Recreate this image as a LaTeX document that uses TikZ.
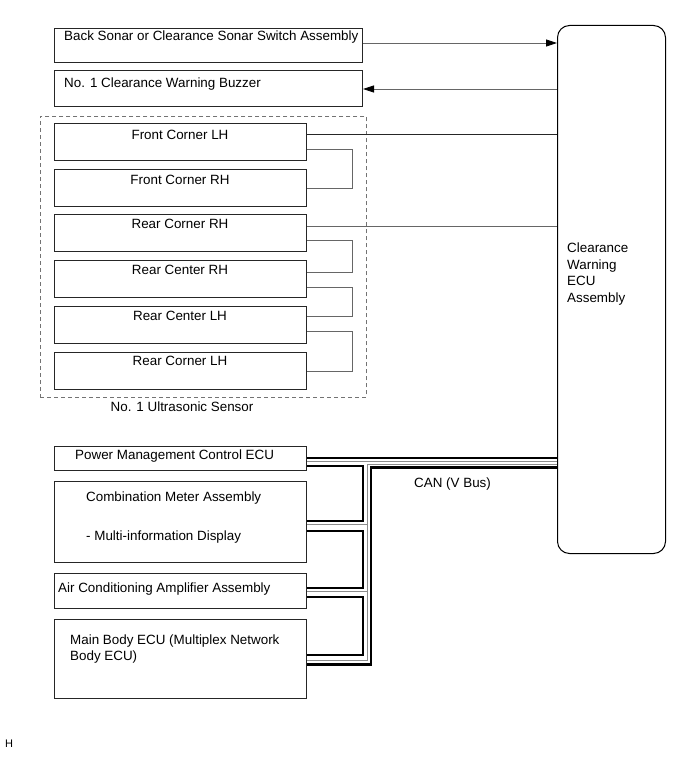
\documentclass[tikz,border=0pt]{standalone}
\usepackage{fontspec}
\setmainfont{Liberation Sans}
\usetikzlibrary{arrows.meta}
\begin{document}
\begin{tikzpicture}[x=1pt,y=-1pt,
  font=\fontsize{13.4}{16.7}\selectfont,
  box/.style={draw=black!85, line width=1pt, anchor=north west, inner sep=0pt, minimum width=252pt},
  wbox/.style={box, minimum width=308pt},
  txt/.style={anchor=base west, inner sep=0pt},
  ctxt/.style={anchor=base, inner sep=0pt},
  sig/.style={draw=black!60, line width=0.8pt},
  darksig/.style={draw=black!85, line width=0.8pt},
  arr/.style={sig, -{Triangle[length=11pt,width=7pt,fill=black,color=black]}},
  canthick/.style={draw=black, line width=2.4pt},
  canthin/.style={draw=black!45, line width=0.8pt}]
\useasboundingbox (0,0) rectangle (691,757);

% ECU
\node[draw=black, line width=1pt, rounded corners=12pt, anchor=north west, inner sep=0pt,
      minimum width=108pt, minimum height=528pt] (ecu) at (557,25) {};
\node[txt] (ecut1) at (567,252.5) {Clearance};
\node[txt] (ecut2) at (567,269) {Warning};
\node[txt] (ecut3) at (567,285.5) {ECU};
\node[txt] (ecut4) at (567,302) {Assembly};

% top boxes
\node[wbox, minimum height=34pt] (sw) at (54,28) {};
\node[txt] (swt) at (64,41) {Back Sonar or Clearance Sonar Switch Assembly};
\node[wbox, minimum height=36pt] (bz) at (54,70) {};
\node[txt] (bzt) at (64,87.5) {No. 1 Clearance Warning Buzzer};

\draw[arr] (sw.east |- 0,43) -- (ecu.west |- 0,43);
\draw[arr] (ecu.west |- 0,89) -- (bz.east |- 0,89);

% sensor group
\node[draw=black!55, line width=0.8pt, dash pattern=on 4pt off 3pt, anchor=north west,
      inner sep=0pt, minimum width=326pt, minimum height=281pt] (grp) at (40,116) {};
\node[box, minimum height=37pt] (fl) at (54,123) {};
\node[box, minimum height=37pt] (fr) at (54,168.5) {};
\node[box, minimum height=37pt] (rcr) at (54,214) {};
\node[box, minimum height=37pt] (rctr) at (54,260) {};
\node[box, minimum height=37pt] (rctl) at (54,306) {};
\node[box, minimum height=37pt] (rcl) at (54,351.5) {};
\node[ctxt] (flt) at (180,139.5) {Front Corner LH};
\node[ctxt] (frt) at (180,184.5) {Front Corner RH};
\node[ctxt] (rcrt) at (180,228.5) {Rear Corner RH};
\node[ctxt] (rctrt) at (180,274.5) {Rear Center RH};
\node[ctxt] (rctlt) at (180,320.5) {Rear Center LH};
\node[ctxt] (rclt) at (180,365.5) {Rear Corner LH};
\node[ctxt] (grpt) at (182,411.5) {No. 1 Ultrasonic Sensor};

\draw[darksig] (fl.east |- 0,134) -- (ecu.west |- 0,134);
\draw[sig] (rcr.east |- 0,226) -- (ecu.west |- 0,226);

\draw[sig] (fl.east |- 0,149) -- (352,149) -- (352,188) -- (fr.east |- 0,188);
\draw[sig] (rcr.east |- 0,240) -- (352,240) -- (352,272) -- (rctr.east |- 0,272);
\draw[sig] (rctr.east |- 0,287) -- (352,287) -- (352,316) -- (rctl.east |- 0,316);
\draw[sig] (rctl.east |- 0,331) -- (352,331) -- (352,371) -- (rcl.east |- 0,371);

% CAN boxes
\node[box, minimum height=24pt] (pm) at (54,446) {};
\node[txt] (pmt) at (75,459.5) {Power Management Control ECU};
\node[box, minimum height=81pt] (cm) at (54,481) {};
\node[txt] (cmt) at (86,501.5) {Combination Meter Assembly};
\node[txt] (cmt2) at (86,540.5) {- Multi-information Display};
\node[box, minimum height=35pt] (ac) at (54,573) {};
\node[txt] (act) at (58,592.5) {Air Conditioning Amplifier Assembly};
\node[box, minimum height=79pt] (mb) at (54,619) {};
\node[txt] (mbt) at (70,644.5) {Main Body ECU (Multiplex Network};
\node[txt] (mbt2) at (70,660.5) {Body ECU)};
\node[txt] (cant) at (414,487.5) {CAN (V Bus)};

% CAN wiring
\draw[canthick] (pm.east |- 0,458) -- (ecu.west |- 0,458);
\draw[canthin] (pm.east |- 0,461.5) -- (ecu.west |- 0,461.5);
\draw[canthin] (ecu.west |- 0,464.5) -- (367,464.5) -- (367,660) -- (mb.east |- 0,660);
\draw[canthick, line join=miter] (ecu.west |- 0,467.5) -- (371,467.5) -- (371,664.5) -- (mb.east |- 0,664.5);
\draw[canthick, line join=miter] (pm.east |- 0,466) -- (363,466) -- (363,521) -- (cm.east |- 0,521);
\draw[canthin] (cm.east |- 0,524.5) -- (367,524.5);
\draw[canthick, line join=miter] (cm.east |- 0,531) -- (363,531) -- (363,588) -- (ac.east |- 0,588);
\draw[canthin] (ac.east |- 0,591.5) -- (367,591.5);
\draw[canthick, line join=miter] (ac.east |- 0,597) -- (363,597) -- (363,655) -- (mb.east |- 0,655);

\node[txt] (h) at (5,747) {\fontsize{11}{13}\selectfont H};
\end{tikzpicture}
\end{document}
